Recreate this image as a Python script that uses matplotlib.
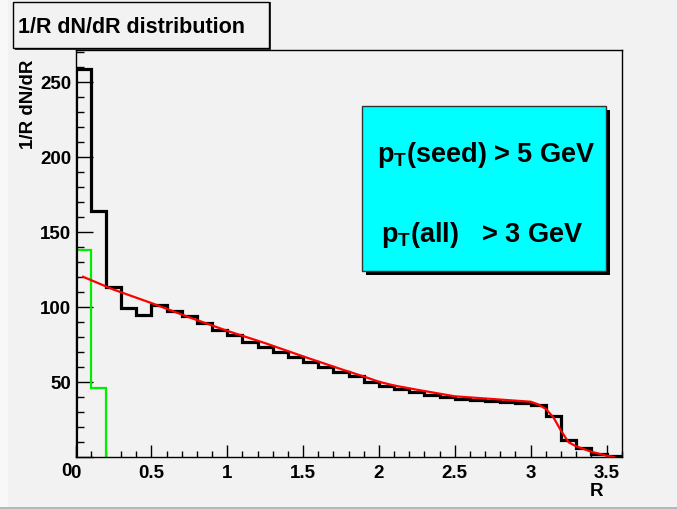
import numpy as np
import matplotlib
matplotlib.use('Agg')
import matplotlib.pyplot as plt
from matplotlib.patches import Rectangle
from matplotlib.transforms import ScaledTranslation

plt.rcParams['font.family'] = ['Liberation Sans', 'DejaVu Sans']
plt.rcParams['font.weight'] = 'bold'
plt.rcParams['mathtext.fontset'] = 'custom'
plt.rcParams['mathtext.rm'] = 'Liberation Sans:bold'
plt.rcParams['mathtext.bf'] = 'Liberation Sans:bold'
plt.rcParams['mathtext.it'] = 'Liberation Sans:bold'

# 1/R dN/dR, 36 bins of width 0.1 in R
bin_edges = np.round(np.arange(0, 3.61, 0.1), 2)
all_tracks = [258.6, 163.7, 112.9, 98.9, 94.5, 101.0, 97.3, 93.6, 89.4, 84.6,
              81.0, 76.8, 73.2, 70.1, 66.3, 63.0, 60.1, 56.8, 53.7, 50.1,
              47.4, 45.2, 43.4, 41.6, 40.2, 38.6, 37.7, 37.0, 36.4, 35.9,
              34.8, 27.5, 11.3, 5.8, 2.0, 0.5]
seed_edges = [0.0, 0.1, 0.2]
seed_tracks = [137.5, 45.9]

# fitted curve
fit_r = [0.05, 0.25, 0.5, 0.75, 1.0, 1.25, 1.5, 1.75, 1.9, 2.0, 2.1, 2.25,
         2.5, 2.75, 3.0, 3.05, 3.1, 3.15, 3.2, 3.25, 3.3, 3.4, 3.5, 3.55]
fit_val = [120.0, 111.5, 102.5, 93.0, 84.0, 75.8, 67.0, 58.5, 53.6, 50.1, 47.6,
           44.8, 40.4, 38.6, 36.8, 35.0, 32.0, 26.4, 17.5, 9.8, 7.1, 3.5, 0.9, 0.0]

W, H = 677, 510
bg = '#f2f2f2'
fig = plt.figure(figsize=(W / 100, H / 100), dpi=100, facecolor=bg)

def fx(px):
    return px / W

def fy(py):
    return 1 - py / H

# canvas edges
fig.patches.append(Rectangle((0, 0), fx(8), 1, transform=fig.transFigure,
                             facecolor='#f8f8f8', edgecolor='none', zorder=0))
fig.patches.append(Rectangle((0, 0), 1, fy(508), transform=fig.transFigure,
                             facecolor='#b8b8b8', edgecolor='none', zorder=0))

x0, x1, ytop, ybot = 75.5, 621.7, 51, 458
ax = fig.add_axes([fx(x0), fy(ybot), fx(x1 - x0), (ybot - ytop) / H])
ax.set_facecolor(bg)

ax.stairs(seed_tracks, seed_edges, baseline=0, color='#00ee00', lw=1.6, zorder=2)
ax.stairs(all_tracks, bin_edges, baseline=0, color='black', lw=2.3, zorder=3)
ax.plot(fit_r, fit_val, color='#ff0000', lw=1.6, zorder=4)

ax.set_xlim(0, 3.6)
ax.set_ylim(0, 271)
ax.set_xticks(np.arange(0, 3.6, 0.5))
ax.set_xticks(np.arange(0, 3.61, 0.1), minor=True)
ax.set_yticks(np.arange(0, 251, 50))
ax.set_yticks(np.arange(0, 271, 10), minor=True)
ax.set_xticklabels(['0', '0.5', '1', '1.5', '2', '2.5', '3', '3.5'])
ax.tick_params(axis='x', which='major', direction='in', length=9, width=1,
               labelsize=13.5, pad=5)
ax.tick_params(axis='x', which='minor', direction='in', length=4.5, width=1)
ax.tick_params(axis='y', which='major', direction='in', length=12, width=1,
               labelsize=13.5, pad=3)
ax.tick_params(axis='y', which='minor', direction='in', length=6, width=1)
for s in ax.spines.values():
    s.set_linewidth(1)

# bottom y label sits a little lower
lbl = ax.get_yticklabels()[0]
lbl.set_transform(lbl.get_transform() + ScaledTranslation(0, -8 / 72, fig.dpi_scale_trans))

fig.text(fx(603), fy(496), 'R', ha='right', va='baseline', fontsize=13.5,
         fontweight='bold')
fig.text(fx(37), fy(60), '1/R dN/dR', ha='right', va='bottom', rotation=90,
         fontsize=13.5, fontweight='bold', rotation_mode='anchor')

# title box with shadow
fig.patches.append(Rectangle((fx(15), fy(51)), fx(256), (48) / H, transform=fig.transFigure,
                             facecolor='#333333', edgecolor='none', zorder=5))
fig.patches.append(Rectangle((fx(13), fy(49)), fx(256), (46) / H, transform=fig.transFigure,
                             facecolor=bg, edgecolor='black', lw=1, zorder=6))
fig.text(fx(18.5), fy(33.3), '1/R dN/dR distribution', ha='left', va='baseline',
         fontsize=15.5, fontweight='bold', zorder=7)

# cut box with shadow
bx0, by0, bx1, by1 = 362, 107, 606, 271.5
fig.patches.append(Rectangle((fx(bx0 + 4), fy(by1 + 4)), fx(bx1 - bx0), (by1 - by0) / H,
                             transform=fig.transFigure, facecolor='black',
                             edgecolor='none', zorder=5))
fig.patches.append(Rectangle((fx(bx0), fy(by1)), fx(bx1 - bx0), (by1 - by0) / H,
                             transform=fig.transFigure, facecolor='#00ffff',
                             edgecolor='#333333', lw=1, zorder=6))
fig.text(fx(376.7), fy(161.7), r'$\mathbf{p_{T}}$(seed) > 5 GeV', ha='left',
         va='baseline', fontsize=19.5, fontweight='bold', zorder=7)
fig.text(fx(380.7), fy(241.7), r'$\mathbf{p_{T}}$(all)   > 3 GeV', ha='left',
         va='baseline', fontsize=19.5, fontweight='bold', zorder=7)

fig.savefig('out.png', dpi=100, facecolor=bg)
